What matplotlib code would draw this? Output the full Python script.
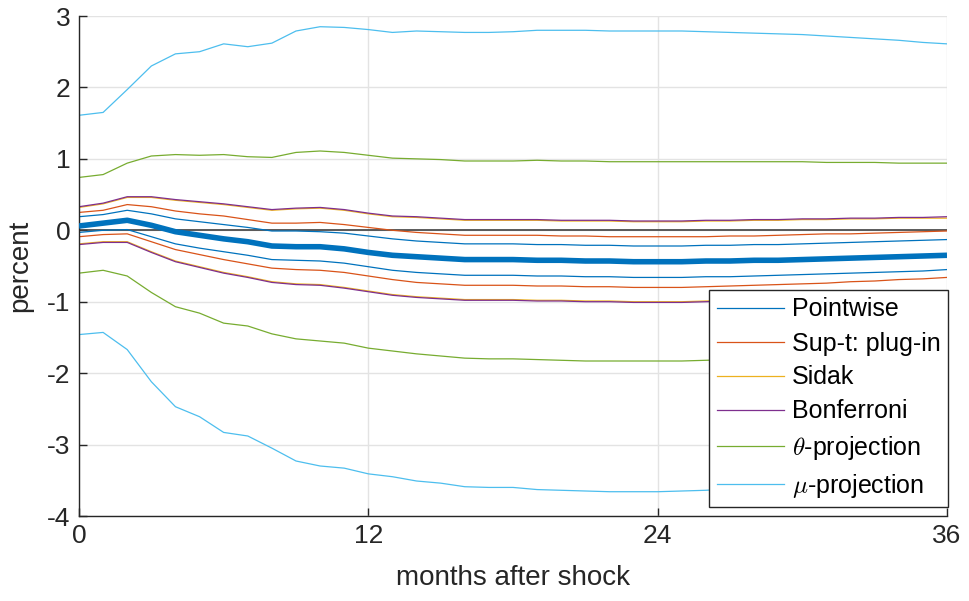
import numpy as np
import matplotlib
matplotlib.use('Agg')
import matplotlib.pyplot as plt

plt.rcParams['font.family'] = ['Liberation Sans', 'DejaVu Sans']
plt.rcParams['mathtext.fontset'] = 'cm'
plt.rcParams['axes.unicode_minus'] = False

# meses apos o choque
months = np.arange(0, 37)

irf = [0.06, 0.10, 0.14, 0.07, -0.02, -0.07, -0.12, -0.16, -0.22, -0.23, -0.23, -0.26, -0.31,
       -0.35, -0.37, -0.39, -0.41, -0.41, -0.41, -0.42, -0.42, -0.43, -0.43, -0.44, -0.44,
       -0.44, -0.43, -0.43, -0.42, -0.42, -0.41, -0.40, -0.39, -0.38, -0.37, -0.36, -0.35]

pw_hi = [0.19, 0.22, 0.28, 0.23, 0.16, 0.12, 0.08, 0.04, -0.01, -0.01, -0.02, -0.04, -0.08,
         -0.12, -0.15, -0.17, -0.19, -0.19, -0.19, -0.20, -0.20, -0.21, -0.21, -0.22, -0.22,
         -0.22, -0.21, -0.21, -0.20, -0.20, -0.19, -0.18, -0.17, -0.16, -0.15, -0.14, -0.13]
pw_lo = [-0.03, 0.00, 0.01, -0.09, -0.19, -0.25, -0.30, -0.35, -0.41, -0.42, -0.43, -0.46, -0.51,
         -0.56, -0.59, -0.61, -0.63, -0.63, -0.63, -0.64, -0.64, -0.65, -0.65, -0.66, -0.66,
         -0.66, -0.65, -0.65, -0.64, -0.63, -0.62, -0.61, -0.60, -0.59, -0.58, -0.57, -0.55]

supt_hi = [0.25, 0.28, 0.36, 0.33, 0.27, 0.23, 0.20, 0.15, 0.10, 0.10, 0.11, 0.08, 0.04,
           0.00, -0.03, -0.05, -0.07, -0.07, -0.07, -0.07, -0.08, -0.08, -0.09, -0.09, -0.09,
           -0.09, -0.09, -0.08, -0.08, -0.07, -0.06, -0.05, -0.05, -0.04, -0.03, -0.02, -0.01]
supt_lo = [-0.09, -0.06, -0.05, -0.16, -0.27, -0.34, -0.41, -0.47, -0.53, -0.55, -0.56, -0.59, -0.64,
           -0.69, -0.73, -0.75, -0.77, -0.77, -0.77, -0.78, -0.78, -0.79, -0.79, -0.80, -0.80,
           -0.80, -0.79, -0.78, -0.77, -0.76, -0.75, -0.74, -0.72, -0.71, -0.69, -0.68, -0.66]

sidak_hi = [0.32, 0.37, 0.46, 0.46, 0.42, 0.39, 0.36, 0.32, 0.28, 0.30, 0.31, 0.28, 0.23,
            0.19, 0.18, 0.16, 0.14, 0.14, 0.14, 0.14, 0.13, 0.13, 0.13, 0.12, 0.12,
            0.12, 0.13, 0.13, 0.14, 0.14, 0.15, 0.15, 0.16, 0.16, 0.17, 0.17, 0.17]
sidak_lo = [-0.19, -0.16, -0.16, -0.30, -0.43, -0.51, -0.59, -0.65, -0.72, -0.75, -0.76, -0.80, -0.85,
            -0.90, -0.93, -0.95, -0.97, -0.97, -0.97, -0.98, -0.98, -0.99, -0.99, -1.00, -1.00,
            -1.00, -0.99, -0.98, -0.97, -0.96, -0.95, -0.93, -0.92, -0.90, -0.89, -0.87, -0.85]

bonf_hi = [0.33, 0.38, 0.47, 0.47, 0.43, 0.40, 0.37, 0.33, 0.29, 0.31, 0.32, 0.29, 0.24,
           0.20, 0.19, 0.17, 0.15, 0.15, 0.15, 0.15, 0.14, 0.14, 0.14, 0.13, 0.13,
           0.13, 0.14, 0.14, 0.15, 0.15, 0.16, 0.16, 0.17, 0.17, 0.18, 0.18, 0.19]
bonf_lo = [-0.20, -0.17, -0.17, -0.31, -0.44, -0.52, -0.60, -0.66, -0.73, -0.76, -0.77, -0.81, -0.86,
           -0.91, -0.94, -0.96, -0.98, -0.98, -0.98, -0.99, -0.99, -1.00, -1.00, -1.01, -1.01,
           -1.01, -1.00, -0.99, -0.98, -0.97, -0.96, -0.94, -0.93, -0.91, -0.90, -0.88, -0.86]

theta_hi = [0.74, 0.78, 0.94, 1.04, 1.06, 1.05, 1.06, 1.03, 1.02, 1.09, 1.11, 1.09, 1.05,
            1.01, 1.00, 0.99, 0.97, 0.97, 0.97, 0.98, 0.97, 0.97, 0.96, 0.96, 0.96,
            0.96, 0.96, 0.96, 0.96, 0.96, 0.96, 0.95, 0.95, 0.95, 0.94, 0.94, 0.94]
theta_lo = [-0.60, -0.56, -0.64, -0.87, -1.07, -1.16, -1.30, -1.34, -1.45, -1.52, -1.55, -1.58, -1.65,
            -1.69, -1.73, -1.76, -1.79, -1.80, -1.80, -1.81, -1.82, -1.83, -1.83, -1.83, -1.83,
            -1.83, -1.82, -1.81, -1.79, -1.77, -1.75, -1.73, -1.71, -1.69, -1.67, -1.64, -1.61]

mu_hi = [1.61, 1.65, 1.97, 2.30, 2.47, 2.50, 2.61, 2.57, 2.62, 2.79, 2.85, 2.84, 2.81,
         2.77, 2.79, 2.78, 2.77, 2.77, 2.78, 2.80, 2.80, 2.80, 2.79, 2.79, 2.79,
         2.79, 2.78, 2.77, 2.76, 2.75, 2.74, 2.72, 2.70, 2.68, 2.66, 2.63, 2.61]
mu_lo = [-1.46, -1.43, -1.67, -2.12, -2.47, -2.61, -2.83, -2.88, -3.05, -3.23, -3.30, -3.33, -3.41,
         -3.45, -3.51, -3.54, -3.59, -3.60, -3.60, -3.63, -3.64, -3.65, -3.66, -3.66, -3.66,
         -3.65, -3.64, -3.62, -3.60, -3.57, -3.54, -3.50, -3.47, -3.43, -3.39, -3.34, -3.29]

labels = ['Pointwise', 'Sup-t: plug-in', 'Sidak', 'Bonferroni',
          r'$\theta$-projection', r'$\mu$-projection']
colors = ['#0072BD', '#D95319', '#EDB120', '#7E2F8E', '#77AC30', '#4DBEEE']
bands = [(pw_hi, pw_lo), (supt_hi, supt_lo), (sidak_hi, sidak_lo),
         (bonf_hi, bonf_lo), (theta_hi, theta_lo), (mu_hi, mu_lo)]

fig = plt.figure(figsize=(9.69, 6.01), dpi=100)
ax = fig.add_axes([79/969, 1-516/601, 868/969, 500/601])

ax.axhline(0, color='#404040', lw=1.2, zorder=1)

handles = []
for (hi, lo), c, lab in zip(bands, colors, labels):
    h, = ax.plot(months, hi, color=c, lw=0.9, label=lab, zorder=2)
    ax.plot(months, lo, color=c, lw=0.9, zorder=2)
    handles.append(h)

ax.plot(months, irf, color='#0072BD', lw=4, zorder=3, solid_capstyle='butt')

ax.set_xlim(0, 36)
ax.set_ylim(-4, 3)
ax.set_xticks([0, 12, 24, 36])
ax.set_yticks(range(-4, 4))
ax.grid(True, color='#e3e3e3', lw=1)
ax.set_axisbelow(True)
for s in ['top', 'right']:
    ax.spines[s].set_visible(False)
for s in ['left', 'bottom']:
    ax.spines[s].set_color('#262626')
    ax.spines[s].set_linewidth(1)
ax.tick_params(direction='in', length=6, width=1, colors='#262626',
               labelsize=19, pad=6)
ax.set_xlabel('months after shock', fontsize=20, color='#262626', labelpad=12)
ax.set_ylabel('percent', fontsize=20, color='#262626', labelpad=10)

leg = ax.legend(handles=handles, loc='lower right', bbox_to_anchor=(1.001, 0.018),
                borderaxespad=0, fontsize=18, frameon=True, fancybox=False,
                handlelength=2.7, handletextpad=0.3, labelspacing=0.4,
                borderpad=0.3)
leg.get_frame().set_edgecolor('#262626')
leg.get_frame().set_linewidth(1)
leg.get_frame().set_alpha(1)

plt.savefig('out.png', dpi=100)
